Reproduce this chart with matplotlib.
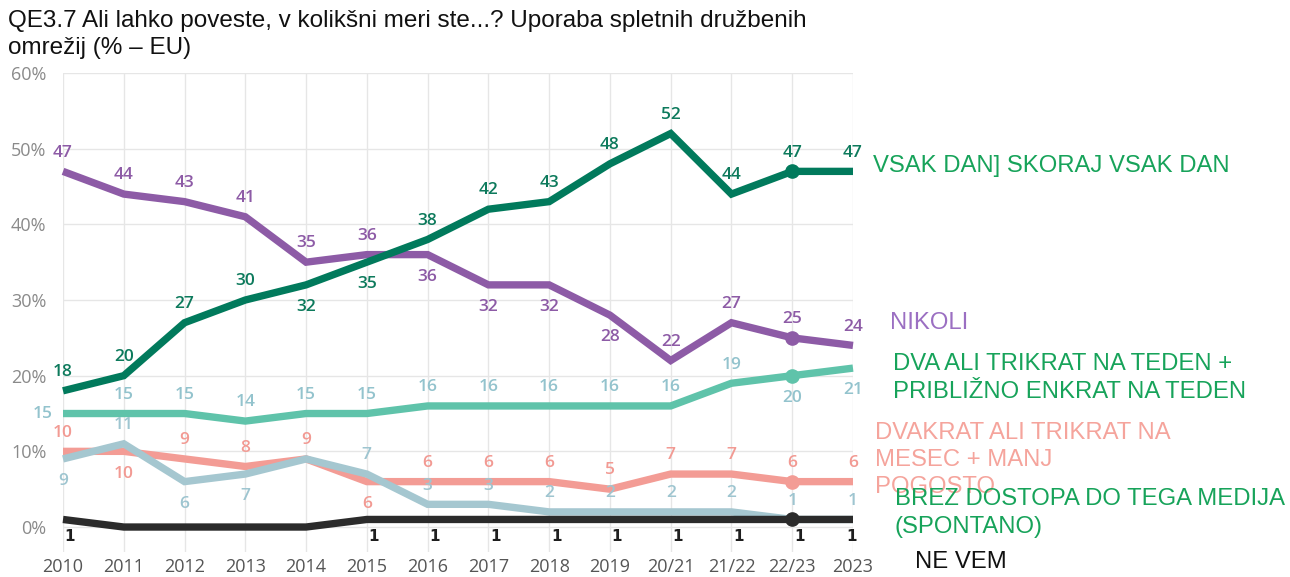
import matplotlib
matplotlib.use('Agg')
import matplotlib.pyplot as plt

# obdobja in vrednosti (%)
periods = ['2010', '2011', '2012', '2013', '2014', '2015', '2016', '2017',
           '2018', '2019', '20/21', '21/22', '22/23', '2023']
vsak_dan = [18, 20, 27, 30, 32, 35, 38, 42, 43, 48, 52, 44, 47, 47]
nikoli = [47, 44, 43, 41, 35, 36, 36, 32, 32, 28, 22, 27, 25, 24]
tedensko = [15, 15, 15, 14, 15, 15, 16, 16, 16, 16, 16, 19, 20, 21]
mesecno = [10, 10, 9, 8, 9, 6, 6, 6, 6, 5, 7, 7, 6, 6]
brez_dostopa = [9, 11, 6, 7, 9, 7, 3, 3, 2, 2, 2, 2, 1, 1]
ne_vem = [1, 0, 0, 0, 0, 1, 1, 1, 1, 1, 1, 1, 1, 1]

# postavitev oznak: a = nad, b = pod, l = levo, - = brez
pos_vsak = 'aaaabbaaaaaaaa'
pos_nikoli = 'aaaaaabbbbaaaa'
pos_teden = 'laaaaaaaaaaabb'
pos_mesec = 'abaaabaaaaaaaa'
pos_brez = 'babb-aaaaaaaaa'

fig = plt.figure(figsize=(12.9, 5.77), dpi=100)
ax = fig.add_axes([63 / 1290, 25 / 577, 790 / 1290, 479 / 577])

x = list(range(len(periods)))

series = [
    # vrednosti, barva crte, barva oznak, postavitev, zorder
    (mesecno, '#f39c95', '#f29a93', pos_mesec, 2),
    (tedensko, '#5fc3aa', '#93c3cd', pos_teden, 3),
    (brez_dostopa, '#a5c7d0', '#9ec5d0', pos_brez, 4),
    (nikoli, '#8d5ba6', '#8d5ba6', pos_nikoli, 6),
    (vsak_dan, '#017a5c', '#0d7a5c', pos_vsak, 7),
]

for vals, lc, tc, pos, z in series:
    ax.plot(x, vals, color=lc, lw=5.3, solid_joinstyle='miter',
            solid_capstyle='butt', zorder=z, clip_on=False)
    for i, (v, p) in enumerate(zip(vals, pos)):
        if p == '-':
            continue
        if p == 'a':
            off = (0, 13.5)
        elif p == 'b':
            off = (0, -16)
        else:
            off = (-15, 0)
        ax.annotate(str(v), (i, v), xytext=off, textcoords='offset points',
                    ha='center', va='center', color=tc, fontsize=12.5,
                    family='Open Sans', fontweight='semibold',
                    annotation_clip=False, zorder=10)

# ne vem
ax.plot(x, ne_vem, color='#2b2b2b', lw=5.3, zorder=5, clip_on=False,
        solid_capstyle='butt')
for i, v in enumerate(ne_vem):
    if v == 0:
        continue
    dx = 5 if i < len(ne_vem) - 1 else -1
    ax.annotate(str(v), (i, v), xytext=(dx, -12), textcoords='offset points',
                ha='center', va='center', color='#1e1e1e', fontsize=11,
                family='DejaVu Sans', fontweight='bold',
                annotation_clip=False, zorder=10)

# tocke pri 22/23
k = periods.index('22/23')
for vals, c in [(vsak_dan, '#017a5c'), (nikoli, '#8d5ba6'),
                (tedensko, '#5fc3aa'), (mesecno, '#f39c95'),
                (ne_vem, '#2b2b2b')]:
    ax.plot(k, vals[k], 'o', color=c, ms=9.5, zorder=8, clip_on=False)

ax.set_xlim(0, len(periods) - 1)
ax.set_ylim(-3.3, 60)
ax.set_yticks(range(0, 61, 10))
ax.set_yticklabels([f'{t}%' for t in range(0, 61, 10)])
ax.set_xticks(x)
ax.set_xticklabels(periods)
for s in ax.spines.values():
    s.set_visible(False)
ax.tick_params(axis='both', length=0, labelsize=13, colors='#555555')
ax.tick_params(axis='y', pad=12, labelcolor='#8a8a8a')
ax.tick_params(axis='x', pad=4)
for lbl in ax.get_xticklabels() + ax.get_yticklabels():
    lbl.set_family('Open Sans')
ax.grid(True, color='#e6e6e6', lw=1)
ax.set_axisbelow(True)

# naslov
fig.text(8 / 1290, 1 - 10 / 577,
         'QE3.7 Ali lahko poveste, v kolikšni meri ste...? Uporaba spletnih družbenih\n'
         'omrežij (% – EU)',
         ha='left', va='top', fontsize=17.5, family='Liberation Sans',
         color='#111111', linespacing=1.3)

# oznake serij
green = '#17a35a'
lab = dict(ha='left', va='center', fontsize=17.2, family='Liberation Sans',
           linespacing=1.32)
fig.text(873 / 1290, 1 - 166 / 577, 'VSAK DAN] SKORAJ VSAK DAN', color=green, **lab)
fig.text(890 / 1290, 1 - 323 / 577, 'NIKOLI', color='#9b6fc2', **lab)
fig.text(893 / 1290, 1 - 378 / 577,
         'DVA ALI TRIKRAT NA TEDEN +\nPRIBLIŽNO ENKRAT NA TEDEN', color=green, **lab)
fig.text(875 / 1290, 1 - 460 / 577,
         'DVAKRAT ALI TRIKRAT NA\nMESEC + MANJ\nPOGOSTO', color='#f5a49c', **lab)
fig.text(895 / 1290, 1 - 513 / 577,
         'BREZ DOSTOPA DO TEGA MEDIJA\n(SPONTANO)', color=green, **lab)
fig.text(915 / 1290, 1 - 562 / 577, 'NE VEM', color='#111111', **lab)

fig.savefig('out.png', dpi=100)
